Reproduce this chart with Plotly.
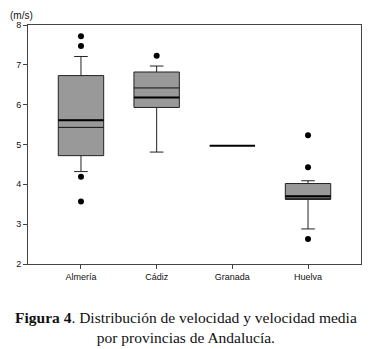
import plotly.graph_objects as go

provinces = ["Almería", "Cádiz", "Granada", "Huelva"]
q1 = [4.72, 5.93, 4.97, 3.62]
median = [5.61, 6.18, 4.97, 3.70]
q3 = [6.73, 6.82, 4.97, 4.02]
lower_whisker = [4.32, 4.81, 4.97, 2.88]
upper_whisker = [7.21, 6.97, 4.97, 4.09]
mean = [5.43, 6.42, 4.97, 3.65]
outliers = [[7.72, 7.47, 4.19, 3.57], [7.23], [], [5.23, 4.43, 2.63]]
y_ticks = [2, 3, 4, 5, 6, 7, 8]

idx = list(range(len(provinces)))
half = 0.3

fig = go.Figure()
for i in idx:
    if q3[i] > q1[i]:
        fig.add_trace(go.Box(
            x=[i], q1=[q1[i]], median=[median[i]], q3=[q3[i]],
            lowerfence=[lower_whisker[i]], upperfence=[upper_whisker[i]],
            fillcolor="#999999", line=dict(color="#222222", width=1),
            width=2 * half, whiskerwidth=0.3, boxpoints=False, showlegend=False,
            hoverinfo="skip"))

# mean lines (thin)
mx, my = [], []
for i in idx:
    if q3[i] > q1[i]:
        mx += [i - half, i + half, None]
        my += [mean[i], mean[i], None]
fig.add_trace(go.Scatter(x=mx, y=my, mode="lines",
                         line=dict(color="#111111", width=1), showlegend=False))

# median lines (thick)
dx, dy = [], []
for i in idx:
    dx += [i - half, i + half, None]
    dy += [median[i], median[i], None]
fig.add_trace(go.Scatter(x=dx, y=dy, mode="lines",
                         line=dict(color="#000000", width=2), showlegend=False))

# outliers
ox, oy = [], []
for i in idx:
    for v in outliers[i]:
        ox.append(i)
        oy.append(v)
fig.add_trace(go.Scatter(x=ox, y=oy, mode="markers",
                         marker=dict(color="black", size=6), showlegend=False))

axis_font = dict(family="Liberation Sans, Arial, sans-serif", size=9, color="#111111")
fig.update_xaxes(range=[-0.7, 3.7], tickvals=idx, ticktext=provinces, automargin=False,
                 showgrid=False, zeroline=False, showline=True, linecolor="#444444",
                 linewidth=1, mirror=True, ticks="outside", ticklen=4, tickcolor="#444444",
                 tickfont=axis_font)
fig.update_yaxes(range=[2, 8], tickvals=y_ticks, showgrid=False, zeroline=False,
                 automargin=False,
                 showline=True, linecolor="#444444", linewidth=1, mirror=True,
                 ticks="outside", ticklen=4, tickcolor="#444444", tickfont=axis_font)

fig.add_annotation(text="(m/s)", xref="paper", yref="paper", x=-0.06, y=1.01,
                   xanchor="left", yanchor="bottom", showarrow=False,
                   font=dict(family="Liberation Sans, Arial, sans-serif", size=10, color="#111111"))

fig.add_annotation(
    text="<b>Figura 4</b>. Distribución de velocidad y velocidad media<br>por provincias de Andalucía.",
    xref="paper", yref="paper", x=0.475, y=-0.178, xanchor="center", yanchor="top",
    showarrow=False, align="center",
    font=dict(family="Liberation Serif, Times New Roman, serif", size=15.5, color="#111111"))

fig.update_layout(width=363, height=341, margin=dict(l=20, r=10, t=17, b=85),
                  paper_bgcolor="white", plot_bgcolor="white", showlegend=False)

fig.write_html("out.html")
